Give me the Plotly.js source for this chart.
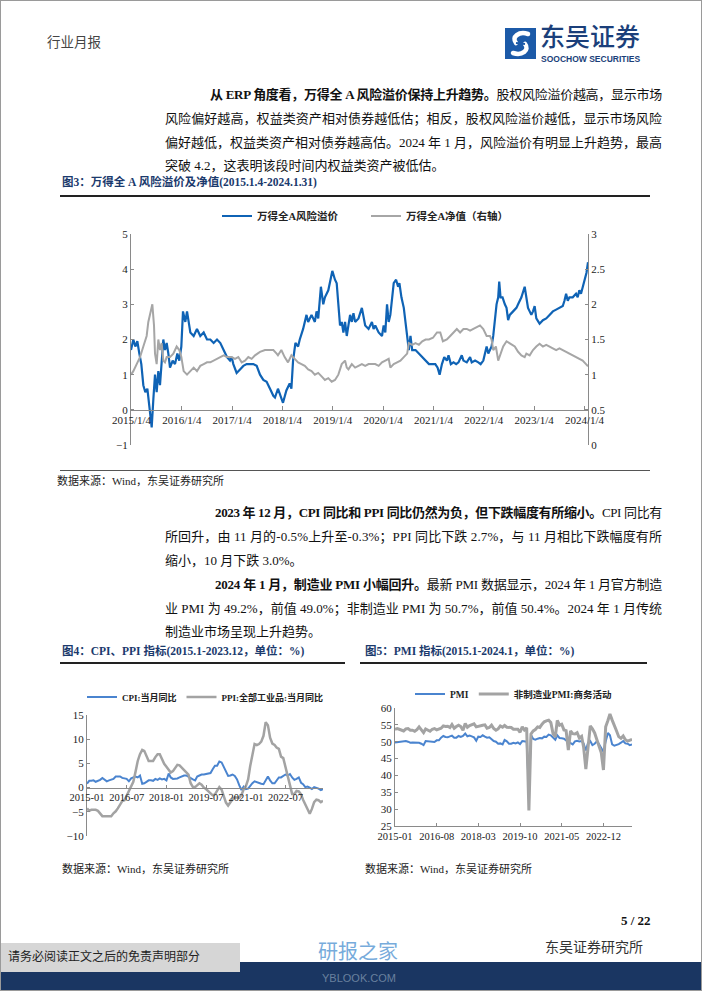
<!DOCTYPE html>
<html><head><meta charset="utf-8">
<script src="https://cdn.plot.ly/plotly-3.0.1.min.js"></script>
<style>
html,body{margin:0;padding:0;background:#fff;}
#page{position:relative;width:702px;height:991px;overflow:hidden;background:#fff;font-family:"Liberation Serif","Noto Sans CJK SC",serif;color:#111;}
.t{position:absolute;white-space:nowrap;line-height:1;}
.ln{font-size:13px;}
.cap{font-size:11.5px;font-weight:bold;color:#1b3a6d;}
.src{font-size:11px;color:#222;}
.rule{position:absolute;}
.chart{position:absolute;}
#frame{position:absolute;left:0;top:0;width:700px;height:989px;border:1px solid #9a9a9a;pointer-events:none;}
</style></head><body><div id="page">

<div class="t" style="left:47px;top:36px;font-size:13.5px;color:#444;">行业月报</div>

<svg style="position:absolute;left:505px;top:28px" width="31" height="31" viewBox="0 0 31 31">
<rect width="31" height="31" fill="#1c5aa8"/>
<path d="M23 6 C14 3, 6 9, 11 15" stroke="#fff" stroke-width="4.5" fill="none" stroke-linecap="round"/>
<path d="M8 25 C17 28, 25 22, 20 16" stroke="#fff" stroke-width="4.5" fill="none" stroke-linecap="round"/>
<path d="M11 15 L20 16" stroke="#1c5aa8" stroke-width="2" fill="none"/>
</svg>
<div class="t" style="left:540px;top:23px;font-size:25px;color:#1b3f7a;font-family:'Noto Sans CJK SC';font-weight:500;">东吴证券</div>
<div class="t" style="left:541px;top:55px;font-size:8.5px;color:#1b3f7a;font-family:'Liberation Sans';font-weight:bold;">SOOCHOW SECURITIES</div>

<div class="t ln" data-w="452" style="left:210px;top:88px;"><b>从 ERP 角度看，万得全 A 风险溢价保持上升趋势。</b>股权风险溢价越高，显示市场</div>
<div class="t ln" data-w="497" style="left:165px;top:112px;">风险偏好越高，权益类资产相对债券越低估；相反，股权风险溢价越低，显示市场风险</div>
<div class="t ln" data-w="497" style="left:165px;top:136px;">偏好越低，权益类资产相对债券越高估。2024 年 1 月，风险溢价有明显上升趋势，最高</div>
<div class="t ln" style="left:165px;top:159px;">突破 4.2，这表明该段时间内权益类资产被低估。</div>

<div class="t cap" style="left:62px;top:177px;">图3：万得全 A 风险溢价及净值(2015.1.4-2024.1.31)</div>
<div class="rule" style="left:60px;top:195px;width:590px;height:2px;background:#222;"></div>

<div id="c1" class="chart" style="left:60px;top:200px;width:590px;height:265px;"></div>

<div class="rule" style="left:60px;top:470px;width:590px;height:1px;background:#555;"></div>
<div class="t src" style="left:57px;top:476px;">数据来源：Wind，东吴证券研究所</div>

<div class="t ln" data-w="447" style="left:215px;top:506px;"><b>2023 年 12 月，CPI 同比和 PPI 同比仍然为负，但下跌幅度有所缩小。</b>CPI 同比有</div>
<div class="t ln" data-w="497" style="left:165px;top:530px;">所回升，由 11 月的-0.5%上升至-0.3%；PPI 同比下跌 2.7%，与 11 月相比下跌幅度有所</div>
<div class="t ln" style="left:165px;top:554px;">缩小，10 月下跌 3.0%。</div>

<div class="t ln" data-w="447" style="left:215px;top:578px;"><b>2024 年 1 月，制造业 PMI 小幅回升。</b>最新 PMI 数据显示，2024 年 1 月官方制造</div>
<div class="t ln" data-w="497" style="left:165px;top:602px;">业 PMI 为 49.2%，前值 49.0%；非制造业 PMI 为 50.7%，前值 50.4%。2024 年 1 月传统</div>
<div class="t ln" style="left:165px;top:625px;">制造业市场呈现上升趋势。</div>

<div class="t cap" style="left:62px;top:646px;">图4：CPI、PPI 指标(2015.1-2023.12，单位：%)</div>
<div class="rule" style="left:60px;top:662px;width:285px;height:2px;background:#222;"></div>
<div class="t cap" style="left:365px;top:646px;">图5：PMI 指标(2015.1-2024.1，单位：%)</div>
<div class="rule" style="left:360px;top:662px;width:287px;height:2px;background:#222;"></div>

<div id="c2" class="chart" style="left:60px;top:670px;width:285px;height:180px;"></div>
<div id="c3" class="chart" style="left:355px;top:670px;width:295px;height:180px;"></div>

<div class="t src" style="left:62px;top:864px;">数据来源：Wind，东吴证券研究所</div>
<div class="t src" style="left:365px;top:864px;">数据来源：Wind，东吴证券研究所</div>

<div class="t" style="left:621px;top:914px;font-size:13px;font-weight:bold;">5 / 22</div>

<div style="position:absolute;left:0;top:962px;width:702px;height:29px;background:#1a3662;"></div>
<div style="position:absolute;left:0;top:943px;width:240px;height:29px;background:#d6d6d6;"></div>
<div class="t" style="left:8px;top:951px;font-size:12px;color:#222;">请务必阅读正文之后的免责声明部分</div>
<div class="t" style="left:545px;top:941px;font-size:14px;color:#333;">东吴证券研究所</div>
<div class="t" style="left:318px;top:941px;font-size:20px;color:#4a8fd0;opacity:0.75;font-family:'Noto Sans CJK SC';">研报之家</div>
<div class="t" style="left:322px;top:973px;font-size:11px;color:#8aa0b8;opacity:0.7;font-family:'Liberation Sans';">YBLOOK.COM</div>
<div id="frame"></div>
</div>
<script>
// ---------- Figure 3: risk premium (left axis) & net value (right axis) ----------
const rpTime = [
2015.00,2015.046,2015.086,2015.126,2015.166,2015.205,2015.245,2015.285,2015.325,2015.351,2015.377,2015.411,2015.444,2015.477,2015.510,2015.543,2015.576,2015.609,2015.642,2015.675,2015.709,2015.742,2015.775,2015.828,2015.874,2015.921,2015.960,
2016.00,2016.033,2016.079,2016.113,2016.146,2016.179,2016.245,2016.311,2016.377,2016.444,2016.510,2016.576,2016.642,2016.709,2016.775,2016.841,2016.907,2016.967,
2017.00,2017.033,2017.099,2017.166,2017.232,2017.298,2017.364,2017.430,2017.497,2017.563,2017.629,2017.695,2017.762,2017.828,2017.861,2017.894,2017.92,
2018.02,2018.087,2018.153,2018.187,2018.22,2018.267,2018.32,2018.353,2018.42,2018.487,2018.52,2018.587,2018.653,2018.687,2018.72,2018.773,2018.82,2018.853,2018.92,2018.953,
2019.0,2019.053,2019.087,2019.12,2019.153,2019.187,2019.22,2019.253,2019.287,2019.32,2019.353,2019.387,2019.42,2019.453,2019.52,2019.587,2019.62,2019.653,2019.72,2019.787,2019.82,2019.853,2019.92,2019.987,
2020.02,2020.053,2020.087,2020.12,2020.153,2020.187,2020.22,2020.267,2020.307,2020.333,2020.373,2020.42,2020.453,2020.487,2020.52,2020.553,2020.587,2020.653,2020.72,2020.787,2020.853,2020.92,2020.987,
2021.046,2021.092,2021.132,2021.178,2021.224,2021.276,2021.309,2021.355,2021.408,2021.461,2021.507,2021.572,2021.605,2021.671,2021.737,2021.770,2021.836,2021.901,2021.947,
2022.0,2022.033,2022.066,2022.099,2022.132,2022.164,2022.197,2022.230,2022.263,2022.296,2022.316,2022.342,2022.382,2022.428,2022.461,2022.493,2022.526,2022.592,2022.658,2022.691,2022.757,2022.822,2022.855,2022.888,2022.921,2022.954,2022.987,
2023.02,2023.053,2023.086,2023.118,2023.184,2023.25,2023.316,2023.382,2023.447,2023.513,2023.579,2023.612,2023.645,2023.678,2023.711,2023.776,2023.842,2023.875,2023.908,2023.941,2023.974,
2024.02,2024.05,2024.08];
const riskPremium = [
1.7,2.0,1.8,1.95,1.6,1.3,0.7,0.5,0.6,0.3,0.0,-0.5,0.3,1.0,0.5,1.1,0.7,1.5,2.0,1.7,1.9,1.6,1.2,1.4,1.3,1.6,1.4,
1.8,2.8,2.5,2.8,2.5,2.2,2.1,2.3,2.1,2.2,2.0,2.0,1.9,2.0,1.9,1.7,1.5,1.4,
1.5,1.3,1.05,1.15,1.25,1.3,1.3,1.3,1.25,1.0,0.85,0.8,0.6,0.4,0.35,0.5,0.6,
0.2,0.55,0.75,0.6,1.4,1.9,1.8,2.0,2.3,2.7,2.5,2.7,2.5,2.8,2.6,3.5,3.0,3.2,3.4,3.6,
3.95,3.7,3.6,3.0,2.4,2.5,2.2,2.5,2.1,2.4,2.7,2.5,2.75,2.5,2.6,2.9,2.6,2.4,2.3,2.5,2.3,2.4,2.2,2.1,
2.4,2.2,3.0,2.5,2.7,3.2,3.6,3.7,3.5,3.6,3.2,2.9,2.5,2.0,1.7,2.1,1.7,1.7,1.6,1.5,1.4,1.3,1.3,
1.3,1.2,1.0,1.3,1.5,1.4,1.55,1.3,1.35,1.3,1.35,1.55,1.4,1.35,1.5,1.35,1.4,1.35,1.3,
1.4,1.6,1.8,1.6,1.7,1.8,2.1,2.6,3.0,3.2,3.65,3.2,3.2,3.0,2.9,2.55,2.7,2.8,2.9,3.0,3.2,3.5,3.2,2.9,2.8,2.7,2.8,
2.95,2.6,2.5,2.45,2.55,2.6,2.7,2.8,2.85,2.9,2.95,3.1,3.3,3.1,3.2,3.2,3.3,3.2,3.4,3.3,3.5,
3.7,3.9,4.2];

const nvTime = [
2015.0,2015.046,2015.113,2015.179,2015.245,2015.311,2015.344,2015.377,2015.424,2015.457,2015.477,2015.510,2015.543,2015.576,2015.609,2015.642,2015.675,2015.709,2015.775,2015.841,2015.907,2015.960,
2016.0,2016.046,2016.113,2016.179,2016.245,2016.311,2016.377,2016.444,2016.510,2016.576,2016.642,2016.709,2016.775,2016.841,2016.907,
2017.0,2017.066,2017.132,2017.199,2017.265,2017.331,2017.397,2017.464,2017.563,2017.662,2017.762,2017.828,2017.894,2017.92,2017.987,
2018.053,2018.12,2018.187,2018.253,2018.32,2018.387,2018.453,2018.52,2018.587,2018.653,2018.72,2018.787,2018.853,2018.92,2018.987,
2019.053,2019.12,2019.187,2019.253,2019.287,2019.32,2019.387,2019.453,2019.52,2019.587,2019.653,2019.72,2019.787,2019.853,2019.92,2019.987,
2020.053,2020.12,2020.153,2020.22,2020.287,2020.353,2020.42,2020.487,2020.52,2020.587,2020.653,2020.72,2020.787,2020.853,2020.92,
2021.0,2021.079,2021.145,2021.197,2021.276,2021.342,2021.408,2021.474,2021.539,2021.605,2021.671,2021.737,2021.803,2021.868,2021.934,
2022.0,2022.066,2022.132,2022.164,2022.197,2022.25,2022.296,2022.342,2022.395,2022.461,2022.513,2022.559,2022.625,2022.691,2022.757,2022.822,2022.855,2022.921,2022.987,
2023.053,2023.118,2023.184,2023.25,2023.316,2023.382,2023.447,2023.513,2023.579,2023.645,2023.711,2023.776,2023.842,2023.908,2023.974,
2024.04,2024.08];
const netValue = [
1.0,1.05,1.15,1.25,1.4,1.55,1.75,1.85,2.0,1.7,1.3,1.15,1.5,1.35,1.45,1.2,1.175,1.25,1.25,1.3,1.4,1.35,
1.25,1.05,1.0,1.05,1.1,1.05,1.125,1.15,1.175,1.175,1.2,1.225,1.25,1.275,1.25,
1.25,1.225,1.25,1.175,1.2,1.25,1.225,1.275,1.325,1.35,1.35,1.35,1.3,1.275,1.35,
1.25,1.175,1.275,1.225,1.175,1.15,1.125,1.075,1.05,1.0,1.025,0.975,0.925,0.95,0.9,
0.925,1.0,1.15,1.2,1.1,1.075,1.15,1.1,1.125,1.15,1.125,1.15,1.15,1.15,1.125,1.175,
1.2,1.225,1.1,1.15,1.175,1.2,1.25,1.3,1.45,1.425,1.45,1.425,1.475,1.5,1.5,
1.525,1.6,1.6,1.475,1.5,1.55,1.6,1.65,1.6,1.65,1.65,1.625,1.65,1.675,1.7,
1.65,1.55,1.55,1.5,1.35,1.4,1.2,1.3,1.4,1.475,1.45,1.425,1.4,1.325,1.275,1.25,1.3,1.275,1.35,
1.4,1.44,1.4,1.425,1.4,1.375,1.35,1.375,1.35,1.325,1.3,1.275,1.25,1.225,1.2,
1.15,1.12];

const fig3TickVals = [2015.01,2016.01,2017.01,2018.01,2019.01,2020.01,2021.01,2022.01,2023.01,2024.01];
const fig3TickText = ['2015/1/4','2016/1/4','2017/1/4','2018/1/4','2019/1/4','2020/1/4','2021/1/4','2022/1/4','2023/1/4','2024/1/4'];

// ---------- Figure 4: CPI / PPI YoY, 2015-01 .. 2023-12 ----------
const cpiYoY = [
0.8,1.4,1.4,1.5,1.2,1.4,1.6,2.0,1.6,1.3,1.5,1.6,
1.8,2.3,2.3,2.3,2.0,1.9,1.8,1.3,1.9,2.1,2.3,2.1,
2.5,0.8,0.9,1.2,1.5,1.5,1.4,1.8,1.6,1.9,1.7,1.8,
1.5,2.9,2.1,1.8,1.8,1.9,2.1,2.3,2.5,2.5,2.2,1.9,
1.7,1.5,2.3,2.5,2.7,2.7,2.8,2.8,3.0,3.8,4.5,4.5,
5.4,5.2,4.3,3.3,2.4,2.5,2.7,2.4,1.7,0.5,-0.5,0.2,
-0.3,-0.2,0.4,0.9,1.3,1.1,1.0,0.8,0.7,1.5,2.3,1.5,
0.9,0.9,1.5,2.1,2.1,2.5,2.7,2.5,2.8,2.1,1.6,1.8,
2.1,1.0,0.7,0.1,0.2,0.0,-0.3,0.1,0.0,-0.2,-0.5,-0.3];
const ppiYoY = [
-4.3,-4.8,-4.6,-4.6,-4.6,-4.8,-5.4,-5.9,-5.9,-5.9,-5.9,-5.9,
-5.3,-4.9,-4.3,-3.4,-2.8,-2.6,-1.7,-0.8,0.1,1.2,3.3,5.5,
6.9,7.8,7.6,6.4,5.5,5.5,5.5,6.3,6.9,6.9,5.8,4.9,
4.3,3.7,3.1,3.4,4.1,4.7,4.6,4.1,3.6,3.3,2.7,0.9,
0.1,0.1,0.4,0.9,0.6,0.0,-0.3,-0.8,-1.2,-1.6,-1.4,-0.5,
0.1,-0.4,-1.5,-3.1,-3.7,-3.0,-2.4,-2.0,-2.1,-2.1,-1.5,-0.4,
0.3,1.7,4.4,6.8,9.0,8.8,9.0,9.5,10.7,13.5,12.9,10.3,
9.1,8.8,8.3,8.0,6.4,6.1,4.2,2.3,0.9,-1.3,-1.3,-0.7,
-0.8,-1.4,-2.5,-3.6,-4.6,-5.4,-4.4,-3.0,-2.5,-2.6,-3.0,-2.7];
const fig4Ticks = ['2015-01','2016-07','2018-01','2019-07','2021-01','2022-07'];

// ---------- Figure 5: PMI, 2015-01 .. 2024-01 ----------
const pmiMfg = [
49.8,49.9,50.1,50.1,50.2,50.2,50.0,49.7,49.8,49.8,49.6,49.7,
49.4,49.0,50.2,50.1,50.1,50.0,49.9,50.4,50.4,51.2,51.7,51.4,
51.3,51.6,51.8,51.2,51.2,51.7,51.4,51.7,52.4,51.6,51.8,51.6,
51.3,50.3,51.5,51.4,51.9,51.5,51.2,51.3,50.8,50.2,50.0,49.4,
49.5,49.2,50.5,50.1,49.4,49.4,49.7,49.5,49.8,49.3,50.2,50.2,
50.0,35.7,52.0,50.8,50.6,50.9,51.1,51.0,51.5,51.4,52.1,51.9,
51.3,50.6,51.9,51.1,51.0,50.9,50.4,50.1,49.6,49.2,50.1,50.3,
50.1,50.2,49.5,47.4,49.6,50.2,49.0,49.4,50.1,49.2,48.0,47.0,
50.1,52.6,51.9,49.2,48.8,49.0,49.3,49.7,50.2,49.5,49.4,49.0,
49.2];
const pmiNonMfg = [
53.7,53.9,53.7,53.4,53.2,53.8,53.9,53.4,53.4,53.1,53.6,54.4,
53.5,52.7,53.8,53.5,53.1,53.7,53.9,53.5,53.7,54.0,54.7,54.5,
54.6,54.2,55.1,54.0,54.5,54.9,54.5,53.4,55.4,54.3,54.8,55.0,
55.3,54.4,54.6,54.8,54.9,55.0,54.0,54.2,54.9,53.9,53.4,53.8,
54.7,54.3,54.8,54.3,54.3,54.2,53.7,53.8,53.7,52.8,54.4,53.5,
54.1,29.6,52.3,53.2,53.6,54.4,54.2,55.2,55.9,56.2,56.4,55.7,
52.4,51.4,56.3,54.9,55.2,53.5,53.3,47.5,53.2,52.4,52.3,52.7,
51.1,51.6,48.4,41.9,47.8,54.7,53.8,52.6,50.6,48.7,46.7,41.6,
54.4,56.3,58.2,56.4,54.5,53.2,51.5,51.0,51.7,50.6,50.2,50.4,
50.7];
const fig5Ticks = ['2015-01','2016-08','2018-03','2019-10','2021-05','2022-12'];

function monthList(y, m, n) {
  const out = [];
  for (let i = 0; i < n; i++) {
    const yy = y + Math.floor((m - 1 + i) / 12), mm = ((m - 1 + i) % 12) + 1;
    out.push(yy + '-' + String(mm).padStart(2, '0') + '-01');
  }
  return out;
}
const fig4Months = monthList(2015, 1, cpiYoY.length);
const fig5Months = monthList(2015, 1, pmiMfg.length);

const FONT = '"Liberation Serif", "Noto Sans CJK SC", serif';
const AX = '#8a8a8a';
const tickFont = {family: FONT, size: 11, color: '#222'};
const cfg = {displayModeBar: false, staticPlot: true};
const noMargin = {l: 0, r: 0, t: 0, b: 0};
// plot box helper: pixel box inside a div of size W x H -> axis domains
function box(W, H, left, right, top, bottom) {
  return {x: [left / W, right / W], y: [(H - bottom) / H, (H - top) / H]};
}

// Figure 3
const b1 = box(590, 265, 71, 528, 34, 245);
Plotly.newPlot('c1', [
  {x: nvTime, y: netValue, type: 'scatter', mode: 'lines', name: '<b>万得全A净值（右轴）</b>', yaxis: 'y2',
   line: {color: '#a6a6a6', width: 2}, legendrank: 2},
  {x: rpTime, y: riskPremium, type: 'scatter', mode: 'lines', name: '<b>万得全A风险溢价</b>',
   line: {color: '#0f63b5', width: 2.2}, legendrank: 1}
], {
  width: 590, height: 265, margin: noMargin,
  paper_bgcolor: 'rgba(0,0,0,0)', plot_bgcolor: 'rgba(0,0,0,0)',
  showlegend: true,
  legend: {orientation: 'h', x: 157 / 590, xanchor: 'left', y: (265 - 16) / 265, yanchor: 'middle',
           font: {family: FONT, size: 10.5, color: '#222'}, entrywidth: 104, entrywidthmode: 'pixels',
           itemwidth: 30, bgcolor: 'rgba(0,0,0,0)', traceorder: 'normal'},
  xaxis: {domain: b1.x, range: [2015.0, 2024.08], tickvals: fig3TickVals, ticktext: fig3TickText,
          anchor: 'free', position: b1.y[0] + (b1.y[1] - b1.y[0]) / 6, showline: true, linecolor: AX, linewidth: 1,
          ticks: 'inside', ticklen: 4, tickcolor: AX, showgrid: false, zeroline: false, tickfont: tickFont},
  yaxis: {domain: b1.y, range: [-1, 5], dtick: 1, showline: true, linecolor: AX, ticks: 'inside', ticklen: 3, tickcolor: AX,
          showgrid: false, zeroline: false, tickfont: tickFont},
  yaxis2: {range: [0, 3], dtick: 0.5, overlaying: 'y', side: 'right', anchor: 'x', showline: true, linecolor: AX,
           ticks: 'inside', ticklen: 3, tickcolor: AX, showgrid: false, zeroline: false, tickfont: tickFont}
}, cfg);

// Figure 4
const b2 = box(285, 180, 27, 263, 45, 166);
Plotly.newPlot('c2', [
  {x: fig4Months, y: cpiYoY, type: 'scatter', mode: 'lines', name: '<b>CPI:当月同比</b>',
   line: {color: '#4a84cf', width: 2}},
  {x: fig4Months, y: ppiYoY, type: 'scatter', mode: 'lines', name: '<b>PPI:全部工业品:当月同比</b>',
   line: {color: '#a3a3a3', width: 2.5}}
], {
  width: 285, height: 180, margin: noMargin,
  paper_bgcolor: 'rgba(0,0,0,0)', plot_bgcolor: 'rgba(0,0,0,0)',
  showlegend: true,
  legend: {orientation: 'h', x: 22 / 285, xanchor: 'left', y: (180 - 27) / 180, yanchor: 'middle',
           font: {family: FONT, size: 9, color: '#222'},
           itemwidth: 30, bgcolor: 'rgba(0,0,0,0)'},
  xaxis: {domain: b2.x, type: 'date', range: ['2015-01-01', '2023-12-01'], tickvals: fig4Ticks.map(s => s + '-01'), ticktext: fig4Ticks,
          anchor: 'free', position: b2.y[0] + 0.4 * (b2.y[1] - b2.y[0]), showline: true, linecolor: AX, ticks: 'inside', ticklen: 3, tickcolor: AX,
          showgrid: false, zeroline: false, tickfont: {family: FONT, size: 10.5, color: '#222'}},
  yaxis: {domain: b2.y, range: [-10, 15], dtick: 5, showline: true, linecolor: AX, ticks: 'inside', ticklen: 3, tickcolor: AX,
          showgrid: false, zeroline: false, tickfont: tickFont}
}, cfg);

// Figure 5
const b3 = box(295, 180, 40, 277, 38, 156);
Plotly.newPlot('c3', [
  {x: fig5Months, y: pmiMfg, type: 'scatter', mode: 'lines', name: '<b>PMI</b>',
   line: {color: '#4a84cf', width: 2}},
  {x: fig5Months, y: pmiNonMfg, type: 'scatter', mode: 'lines', name: '<b>非制造业PMI:商务活动</b>',
   line: {color: '#a3a3a3', width: 3}}
], {
  width: 295, height: 180, margin: noMargin,
  paper_bgcolor: 'rgba(0,0,0,0)', plot_bgcolor: 'rgba(0,0,0,0)',
  showlegend: true,
  legend: {orientation: 'h', x: 55 / 295, xanchor: 'left', y: (180 - 24) / 180, yanchor: 'middle',
           font: {family: FONT, size: 9.5, color: '#222'},
           itemwidth: 30, bgcolor: 'rgba(0,0,0,0)'},
  xaxis: {domain: b3.x, type: 'date', range: ['2015-01-01', '2024-01-01'], tickvals: fig5Ticks.map(s => s + '-01'), ticktext: fig5Ticks,
          anchor: 'y', showline: true, linecolor: AX, ticks: 'inside', ticklen: 3, tickcolor: AX,
          showgrid: false, zeroline: false, tickfont: {family: FONT, size: 10.5, color: '#222'}},
  yaxis: {domain: b3.y, range: [25, 60], dtick: 5, showline: true, linecolor: AX, ticks: 'inside', ticklen: 3, tickcolor: AX,
          showgrid: false, zeroline: false, tickfont: tickFont}
}, cfg);

// justify fixed-width text lines
function justifyLines() {
  document.querySelectorAll('[data-w]').forEach(el => {
    const w = +el.dataset.w;
    el.style.letterSpacing = '0px';
    const nat = el.getBoundingClientRect().width;
    const n = [...el.textContent].length;
    el.style.letterSpacing = ((w - nat) / n) + 'px';
  });
}
justifyLines();
if (document.fonts && document.fonts.ready) document.fonts.ready.then(justifyLines);
</script>
</body></html>
